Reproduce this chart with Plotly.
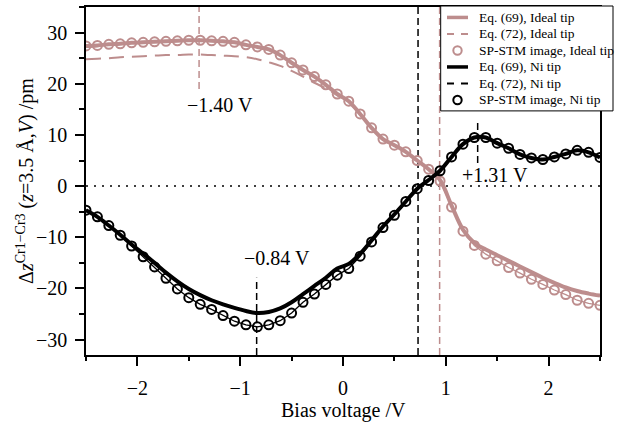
import plotly.graph_objects as go

# ---------------- data ----------------
bias = [-2.500, -2.389, -2.278, -2.167, -2.056, -1.944, -1.833, -1.722, -1.611, -1.500,
        -1.389, -1.278, -1.167, -1.056, -0.944, -0.833, -0.722, -0.611, -0.500, -0.389,
        -0.278, -0.167, -0.056, 0.056, 0.167, 0.278, 0.389, 0.500, 0.611, 0.722,
        0.833, 0.944, 1.056, 1.167, 1.278, 1.389, 1.500, 1.611, 1.722, 1.833,
        1.944, 2.056, 2.167, 2.278, 2.389, 2.500]

ideal_stm = [27.4, 27.5, 27.7, 27.8, 28.0, 28.1, 28.2, 28.3, 28.4, 28.5,
             28.5, 28.4, 28.3, 28.1, 27.6, 27.2, 26.7, 25.6, 24.1, 22.7,
             21.4, 19.8, 18.0, 16.6, 14.1, 11.4, 9.2, 8.0, 6.7, 5.0,
             3.3, 1.0, -4.1, -8.8, -11.6, -13.3, -14.6, -15.9, -17.0, -18.2,
             -19.2, -20.3, -21.2, -22.3, -22.9, -23.3]

ideal_eq69 = [27.4, 27.5, 27.7, 27.8, 28.0, 28.1, 28.2, 28.3, 28.4, 28.5,
              28.5, 28.4, 28.3, 28.1, 27.6, 27.2, 26.7, 25.6, 24.1, 22.7,
              21.4, 19.8, 18.0, 16.6, 14.1, 11.4, 9.2, 8.0, 6.7, 5.0,
              3.3, 1.2, -3.8, -8.5, -11.1, -12.4, -13.5, -14.6, -15.7, -16.8,
              -17.9, -18.9, -19.8, -20.5, -21.0, -21.4]

ideal_eq72 = [24.8, 24.9, 25.0, 25.2, 25.3, 25.4, 25.5, 25.6, 25.6, 25.7,
              25.7, 25.6, 25.5, 25.4, 25.2, 24.8, 24.2, 23.5, 22.5, 21.4,
              20.2, 19.1, 17.8, 16.4, 14.0, 11.4, 9.2, 8.0, 6.7, 5.0,
              3.3, 1.2, -3.8, -8.5, -11.1, -12.4, -13.5, -14.6, -15.7, -16.8,
              -17.9, -18.9, -19.8, -20.5, -21.0, -21.4]

ni_stm = [-4.7, -6.0, -7.7, -9.6, -11.7, -13.8, -15.8, -18.0, -20.1, -21.8,
          -23.1, -24.1, -25.3, -26.4, -27.1, -27.5, -27.1, -26.3, -24.8, -22.7,
          -21.1, -19.2, -17.4, -16.1, -13.7, -10.9, -8.1, -5.7, -3.0, -0.5,
          1.1, 3.0, 5.7, 8.2, 9.5, 9.5, 8.4, 7.4, 6.2, 5.5,
          5.2, 5.7, 6.3, 7.0, 6.6, 5.6]

ni_eq69 = [-4.7, -6.0, -7.7, -9.5, -11.4, -13.2, -15.0, -16.9, -18.6, -20.1,
           -21.3, -22.3, -23.1, -23.8, -24.4, -24.8, -24.6, -23.9, -22.7, -21.1,
           -19.5, -17.9, -16.1, -15.2, -13.2, -10.6, -7.9, -5.5, -3.0, -0.5,
           1.2, 3.0, 5.7, 8.2, 9.5, 9.5, 8.4, 7.4, 6.2, 5.5,
           5.2, 5.7, 6.3, 7.0, 6.6, 5.6]

ni_eq72 = list(ni_eq69)

x_ticks = [-2, -1, 0, 1, 2]
y_ticks = [-30, -20, -10, 0, 10, 20, 30]

ideal_marks = [-1.40, 0.94]
ni_marks = [-0.84, 0.73, 1.31]
mark_labels = ["\u22121.40 V", "\u22120.84 V", "+1.31 V"]

legend_names = ["Eq. (69), Ideal tip", "Eq. (72), Ideal tip", "SP-STM image, Ideal tip",
                "Eq. (69), Ni tip", "Eq. (72), Ni tip", "SP-STM image, Ni tip"]

# ---------------- style ----------------
PINK = "rgb(189,141,141)"
BLACK = "black"
FONT = "Liberation Serif"

fig = go.Figure()

# ideal tip
fig.add_trace(go.Scatter(x=bias, y=ideal_eq72, mode="lines", name=legend_names[1],
                         line=dict(color=PINK, width=2, dash="15px,8px", shape="spline")))
fig.add_trace(go.Scatter(x=bias, y=ideal_eq69, mode="lines", name=legend_names[0],
                         line=dict(color=PINK, width=4, shape="spline")))
fig.add_trace(go.Scatter(x=bias, y=ideal_stm, mode="lines", name=legend_names[2],
                         line=dict(color=PINK, width=1.3), hoverinfo="skip"))
fig.add_trace(go.Scatter(x=bias, y=ideal_stm, mode="markers", name=legend_names[2],
                         marker=dict(symbol="circle-open", size=9, color=PINK,
                                     line=dict(width=2, color=PINK))))
# Ni tip
fig.add_trace(go.Scatter(x=bias, y=ni_eq72, mode="lines", name=legend_names[4],
                         line=dict(color=BLACK, width=2, dash="8px,5px", shape="spline")))
fig.add_trace(go.Scatter(x=bias, y=ni_eq69, mode="lines", name=legend_names[3],
                         line=dict(color=BLACK, width=4, shape="spline")))
fig.add_trace(go.Scatter(x=bias, y=ni_stm, mode="lines", name=legend_names[5],
                         line=dict(color=BLACK, width=1.3), hoverinfo="skip"))
fig.add_trace(go.Scatter(x=bias, y=ni_stm, mode="markers", name=legend_names[5],
                         marker=dict(symbol="circle-open", size=9, color=BLACK,
                                     line=dict(width=2, color=BLACK))))

# reference lines
shapes = [dict(type="line", xref="x", yref="y", x0=-2.5, x1=2.5, y0=0, y1=0,
               line=dict(color="black", width=1.5, dash="2px,6px"), layer="below")]
vdash = "7px,4px"
shapes.append(dict(type="line", xref="x", yref="y", x0=ideal_marks[0], x1=ideal_marks[0],
                   y0=19, y1=35, line=dict(color=PINK, width=1.5, dash=vdash), layer="below"))
shapes.append(dict(type="line", xref="x", yref="y", x0=ideal_marks[1], x1=ideal_marks[1],
                   y0=-33, y1=35, line=dict(color=PINK, width=1.5, dash=vdash), layer="below"))
shapes.append(dict(type="line", xref="x", yref="y", x0=ni_marks[0], x1=ni_marks[0],
                   y0=-33, y1=-17.9, line=dict(color=BLACK, width=1.5, dash=vdash), layer="below"))
shapes.append(dict(type="line", xref="x", yref="y", x0=ni_marks[1], x1=ni_marks[1],
                   y0=-33, y1=35, line=dict(color=BLACK, width=1.5, dash=vdash), layer="below"))
shapes.append(dict(type="line", xref="x", yref="y", x0=ni_marks[2], x1=ni_marks[2],
                   y0=4.5, y1=13, line=dict(color=BLACK, width=1.5, dash=vdash), layer="below"))

ann_font = dict(family=FONT, size=20, color="black")
annotations = [
    dict(x=-1.20, y=15.9, xref="x", yref="y", text=mark_labels[0], showarrow=False, font=ann_font),
    dict(x=-0.645, y=-14.0, xref="x", yref="y", text=mark_labels[1], showarrow=False, font=ann_font),
    dict(x=1.478, y=2.2, xref="x", yref="y", text=mark_labels[2], showarrow=False, font=ann_font),
    dict(x=0.5, y=-0.16, xref="paper", yref="paper", text="Bias voltage /V", showarrow=False,
         font=ann_font, xanchor="center", yanchor="middle"),
    dict(x=-0.1187, y=0.5, xref="paper", yref="paper",
         text="\u0394<i>z</i><sup>Cr1\u2212Cr3</sup> (<i>z</i>=3.5 \u00c5,<i>V</i>) /pm",
         showarrow=False, textangle=-90, font=ann_font, xanchor="center", yanchor="middle"),
]

# ---------------- legend box (drawn in paper coordinates) ----------------
L, R, T, B = 86.0, 600.0, 5.0, 355.0
def px(xp):
    return (xp - L) / (R - L)
def py(yp):
    return (B - yp) / (B - T)

shapes.append(dict(type="rect", xref="paper", yref="paper",
                   x0=px(440.7), x1=px(613), y0=py(109.5), y1=py(4),
                   fillcolor="white", line=dict(color="black", width=1), layer="above"))
row_y = [15.5, 32.1, 48.7, 65.3, 81.9, 98.5]
row_style = [("line", PINK, None), ("line", PINK, "7px,7px"), ("circle", PINK, None),
             ("line", BLACK, None), ("line", BLACK, "7px,7px"), ("circle", BLACK, None)]
leg_font = dict(family=FONT, size=13.5, color="black")
for name, ry, (kind, col, dash) in zip(legend_names, row_y, row_style):
    if kind == "line":
        shapes.append(dict(type="line", xref="paper", yref="paper",
                           x0=px(447), x1=px(468), y0=py(ry), y1=py(ry),
                           line=dict(color=col, width=3.5 if dash is None else 2, dash=dash or "solid"),
                           layer="above"))
    else:
        shapes.append(dict(type="circle", xref="paper", yref="paper",
                           xsizemode="pixel", ysizemode="pixel",
                           xanchor=px(457.5), yanchor=py(ry),
                           x0=-4.2, x1=4.2, y0=-4.2, y1=4.2,
                           line=dict(color=col, width=2), layer="above"))
    annotations.append(dict(x=px(477), y=py(ry), xref="paper", yref="paper", text=name,
                            showarrow=False, font=leg_font, xanchor="left", yanchor="middle"))

axis_common = dict(showgrid=False, zeroline=False, showline=True, linecolor="black",
                   linewidth=1.5, mirror=True, ticks="outside", tickcolor="black",
                   tickwidth=1.5, ticklen=9, tickfont=dict(family=FONT, size=20, color="black"))

fig.update_layout(
    width=629, height=426,
    margin=dict(l=86, r=29, t=5, b=71),
    plot_bgcolor="white", paper_bgcolor="white",
    font=dict(family=FONT, size=20, color="black"),
    shapes=shapes, annotations=annotations,
    showlegend=False,
    xaxis=dict(range=[-2.5, 2.5], tickmode="array", tickvals=x_ticks, ticklabelstandoff=5,
               minor=dict(dtick=0.5, ticklen=4.5, tickwidth=1.5, tickcolor="black", ticks="outside"),
               **axis_common),
    yaxis=dict(range=[-33, 35], tickmode="array", tickvals=y_ticks, ticklabelstandoff=4,
               minor=dict(dtick=5, ticklen=5, tickwidth=1.5, tickcolor="black", ticks="outside"),
               **axis_common),
)

fig.write_html("out.html", post_script="document.body.style.margin='0';",
               config={"displayModeBar": False})
